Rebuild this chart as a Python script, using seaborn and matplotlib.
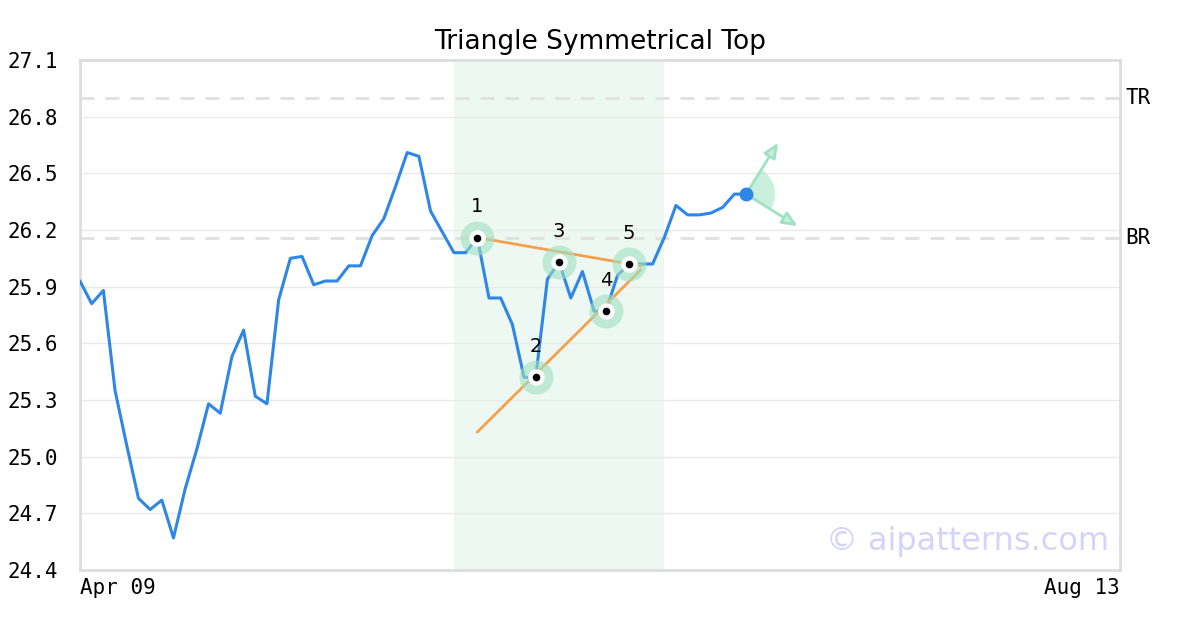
import pandas as pd
import seaborn as sns
import matplotlib.pyplot as plt
from matplotlib.patches import Wedge
from matplotlib.transforms import ScaledTranslation

# closing prices, one per trading day from Apr 09
prices = [25.93, 25.81, 25.88, 25.35, 25.06, 24.78, 24.72, 24.77, 24.57, 24.83,
          25.04, 25.28, 25.23, 25.53, 25.67, 25.32, 25.28, 25.83, 26.05, 26.06,
          25.91, 25.93, 25.93, 26.01, 26.01, 26.17, 26.26, 26.43, 26.61, 26.59,
          26.30, 26.19, 26.08, 26.08, 26.16, 25.84, 25.84, 25.70, 25.42, 25.42,
          25.94, 26.03, 25.84, 25.98, 25.77, 25.77, 25.96, 26.02, 26.02, 26.02,
          26.16, 26.33, 26.28, 26.28, 26.29, 26.32, 26.39, 26.39]

pivot_idx = [34, 39, 41, 45, 47]
pivot_labels = ['1', '2', '3', '4', '5']

upper_x = [34, 48]
upper_y = [26.16, 26.01]
lower_x = [34, 48]
lower_y = [25.13, 25.99]

tr_level = 26.90
br_level = 26.16
zone = [32, 50]

y_ticks = [24.4, 24.7, 25.0, 25.3, 25.6, 25.9, 26.2, 26.5, 26.8, 27.1]
x_ticks = [0, 89]
x_tick_labels = ['Apr 09', 'Aug 13']

BLUE = '#2e86e6'
ORANGE = '#f5a04a'
GREEN = '#9fe2c1'

sns.set_style('white')
plt.rcParams['font.family'] = ['DejaVu Sans Mono']
plt.rcParams['text.color'] = 'black'
plt.rcParams['xtick.color'] = 'black'
plt.rcParams['ytick.color'] = 'black'

df = pd.DataFrame({'day': range(len(prices)), 'price': prices})
piv = df.loc[pivot_idx].copy()
piv['label'] = pivot_labels

fig = plt.figure(figsize=(12, 6.3), dpi=100)
ax = fig.add_axes([80 / 1200, 60 / 630, 1040 / 1200, 510 / 630])
ax.set_xlim(0, 89)
ax.set_ylim(24.4, 27.1)

ax.axvspan(zone[0], zone[1], color='#2eaa6e', alpha=0.08, lw=0, zorder=0)
ax.yaxis.grid(True, color='#e9e9e9', lw=1)
ax.set_axisbelow(True)

for lvl, name in [(tr_level, 'TR'), (br_level, 'BR')]:
    ax.axhline(lvl, color='#e0e0e0', lw=2, dashes=(5, 4), zorder=1)
    ax.text(1.005, lvl, name, transform=ax.get_yaxis_transform(),
            ha='left', va='center', fontsize=15)

sns.lineplot(data=df, x='day', y='price', color=BLUE, lw=2.2, ax=ax, zorder=3)
ax.plot(upper_x, upper_y, color=ORANGE, lw=2, zorder=4)
ax.plot(lower_x, lower_y, color=ORANGE, lw=2, zorder=4)

sns.scatterplot(data=piv, x='day', y='price', s=600, color=GREEN, alpha=0.6,
                linewidth=0, ax=ax, zorder=5)
sns.scatterplot(data=piv, x='day', y='price', s=140, color='white',
                linewidth=0, ax=ax, zorder=6)
sns.scatterplot(data=piv, x='day', y='price', s=30, color='black',
                linewidth=0, ax=ax, zorder=7)
for _, r in piv.iterrows():
    ax.annotate(r['label'], (r['day'], r['price']), xytext=(0, 22),
                textcoords='offset points', ha='center', va='center',
                fontsize=14, family='DejaVu Sans')

# breakout fan at the last bar
last_x, last_y = df['day'].iloc[-1], df['price'].iloc[-1]
fan = Wedge((0, 0), 0.29, -32, 58, color=GREEN, alpha=0.55, lw=0,
            transform=fig.dpi_scale_trans + ScaledTranslation(last_x, last_y, ax.transData),
            zorder=4)
ax.add_patch(fan)
for dx, dy in [(23, 37), (37, -23)]:
    ax.annotate('', xy=(last_x, last_y), xytext=(dx, dy), textcoords='offset points',
                arrowprops=dict(arrowstyle='<|-,head_length=0.9,head_width=0.4',
                                fc='#c6eedb', ec='#9fe2c1', lw=2,
                                shrinkA=0, shrinkB=0), zorder=4)
ax.plot(last_x, last_y, 'o', ms=9, color=BLUE, zorder=8)

ax.text(0.99, 0.055, '\u00a9 aipatterns.com', transform=ax.transAxes, ha='right',
        va='center', color='#d4d4fa', fontsize=23, family='DejaVu Sans')

ax.set_yticks(y_ticks)
ax.set_yticklabels([f'{t:.1f}' for t in y_ticks])
ax.set_xticks(x_ticks)
labels = ax.set_xticklabels(x_tick_labels)
labels[0].set_ha('left')
labels[1].set_ha('right')
ax.tick_params(axis='y', length=0, pad=16, labelsize=15)
ax.tick_params(axis='x', length=0, pad=6, labelsize=15)
ax.set_xlabel('')
ax.set_ylabel('')
for s in ax.spines.values():
    s.set_color('#dddddd')
    s.set_linewidth(2)

ax.set_title('Triangle Symmetrical Top', fontsize=19, family='DejaVu Sans', pad=8)

fig.savefig('out.png', dpi=100)
